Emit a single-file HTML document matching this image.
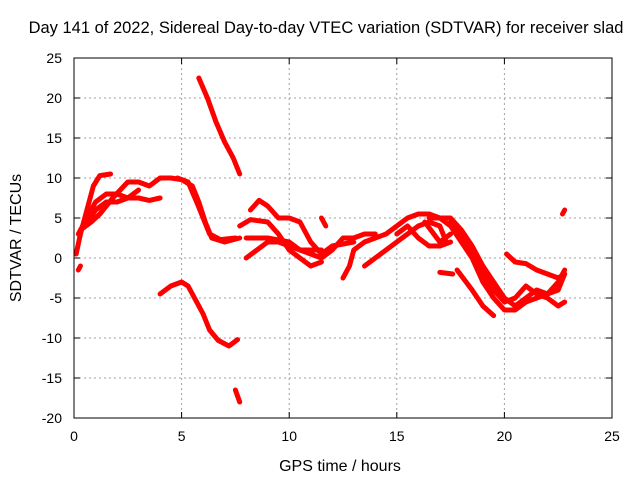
<!DOCTYPE html>
<html><head><meta charset="utf-8"><style>
body{margin:0;background:#fff}
svg{display:block;font-family:"Liberation Sans",sans-serif}
</style></head><body>
<svg id="chart" width="640" height="480">
<text x="326" y="33" font-size="16.5" text-anchor="middle">Day 141 of 2022, Sidereal Day-to-day VTEC variation (SDTVAR) for receiver slad</text>
<g id="grid"></g>
<g id="ticks"></g>
<g id="series"></g>
<rect x="74" y="58" width="538" height="360" fill="none" stroke="#000"/>
<text x="340" y="471" font-size="16" text-anchor="middle">GPS time / hours</text>
<text x="0" y="0" font-size="16" text-anchor="middle" transform="translate(21,238) rotate(-90)">SDTVAR / TECUs</text>
</svg>
<script>
const xTicks=[0,5,10,15,20,25];
const yTicks=[25,20,15,10,5,0,-5,-10,-15,-20];
const tracks=[
[[5.8,22.5],[6.2,20],[6.6,17],[7.0,14.5],[7.4,12.5],[7.7,10.5]],
[[4.0,-4.5],[4.5,-3.5],[5.0,-3],[5.3,-3.5],[5.6,-5],[6.0,-7],[6.3,-9],[6.7,-10.3],[7.2,-11],[7.6,-10.2]],
[[7.5,-16.5],[7.7,-18]],
[[0.2,-1.5],[0.3,-1]],
[[0.1,0.5],[0.3,3],[0.6,6],[0.9,9],[1.2,10.3],[1.7,10.5]],
[[0.2,3],[0.6,5],[1.0,7],[1.5,8],[2,8],[2.5,7.5],[3,7.5],[3.5,7.2],[4,7.5]],
[[0.3,3.5],[0.8,4.5],[1.2,5.5],[1.8,7.5],[2.5,9.5],[3,9.5],[3.5,9],[4,10],[4.5,10],[5,9.8],[5.5,9],[5.8,7],[6.1,4.5],[6.4,2.5],[7,2],[7.7,2.5]],
[[0.5,4],[1,6],[1.5,7],[2,7],[2.5,7.5],[3,8.5]],
[[4.8,10],[5.3,9.5],[5.7,7],[6,5],[6.3,3],[6.8,2.3],[7.5,2.5]],
[[8,0],[8.5,1],[9,2],[9.5,2],[10,1.5],[10.5,1],[11,0.5],[11.5,0],[12,1],[12.5,2.5],[13,2.5],[13.5,3],[14,3]],
[[8.2,6],[8.6,7.2],[9,6.5],[9.5,5],[10,5],[10.5,4.5],[11,2],[11.5,0.5],[12,1.5],[13,2]],
[[7.7,4],[8.2,4.8],[9,4.5],[9.5,3],[10,1],[10.5,0],[11,-1],[11.5,-0.5]],
[[8,2.5],[9,2.5],[10,2],[10.5,1],[11.5,1]],
[[11.5,5],[11.7,4]],
[[12.5,-2.5],[12.8,-1],[13,1],[13.5,2],[14,2.5],[14.5,3],[15,4],[15.5,5],[16,5.5],[16.5,5.5],[17,5],[17.5,4],[18,2],[18.5,0],[19,-3],[19.5,-5],[20,-6.5],[20.5,-6.5],[21,-5.5],[21.5,-5],[22,-4.5],[22.5,-4],[22.8,-2]],
[[13.5,-1],[14,0],[14.5,1],[15,2],[15.5,3],[16,4],[16.5,4.5],[17,4],[17.3,2]],
[[15,3],[15.5,4],[16,2.5],[16.5,1.5],[17,1.5],[17.5,2]],
[[16.3,4.5],[17,2],[17.5,3]],
[[16.5,5],[17,5],[17.5,5],[18,3.5],[18.5,1.5],[19,-1],[19.5,-3],[20,-5],[20.5,-6],[21,-5],[21.5,-4],[22,-4.5],[22.5,-3],[22.8,-1.5]],
[[17,-1.8],[17.6,-2]],
[[17.5,4.5],[18,3],[18.5,0.5],[19,-2],[19.5,-4],[20,-5.5],[20.5,-5],[21,-3.5],[21.5,-4.5],[22,-5],[22.5,-6],[22.8,-5.5]],
[[17.8,-1.5],[18.5,-4],[19,-6],[19.5,-7.2]],
[[20.1,0.5],[20.5,-0.5],[21,-0.7],[21.5,-1.5],[22,-2],[22.5,-2.5],[22.8,-2]],
[[22.7,5.5],[22.8,6]]
];
const X=v=>74+v*538/25, Y=v=>58+(25-v)*8;
const NS='http://www.w3.org/2000/svg';
const grid=document.getElementById('grid'),ticks=document.getElementById('ticks'),ser=document.getElementById('series');
function mk(tag,attrs,parent){const e=document.createElementNS(NS,tag);for(const k in attrs)e.setAttribute(k,attrs[k]);parent.appendChild(e);return e;}
xTicks.forEach(t=>{
  if(t>0&&t<25){const l=mk('line',{x1:X(t),x2:X(t),y1:58,y2:418,stroke:'#a0a0a0','stroke-dasharray':'2,3'},grid);
  
  }
  const tx=mk('text',{x:X(t),y:441,'font-size':14,'text-anchor':'middle'},ticks);tx.textContent=t;
  
  
  mk('line',{x1:X(t),x2:X(t),y1:418,y2:412,stroke:'#000'},ticks);
  mk('line',{x1:X(t),x2:X(t),y1:58,y2:64,stroke:'#000'},ticks);
});
yTicks.forEach(t=>{
  if(t<25&&t>-20){const l=mk('line',{x1:74,x2:612,y1:Y(t),y2:Y(t),stroke:'#a0a0a0','stroke-dasharray':'2,3'},grid);
  
  }
  const tx=mk('text',{x:62,y:Y(t)+5,'font-size':14,'text-anchor':'end'},ticks);tx.textContent=t;
  
  
  mk('line',{x1:74,x2:80,y1:Y(t),y2:Y(t),stroke:'#000'},ticks);
  mk('line',{x1:612,x2:606,y1:Y(t),y2:Y(t),stroke:'#000'},ticks);
});
tracks.forEach(tr=>{
  const p=mk('polyline',{points:tr.map(d=>X(d[0])+','+Y(d[1])).join(' '),fill:'none',stroke:'#ff0000','stroke-width':5,'stroke-linejoin':'round','stroke-linecap':'round'},ser);
  
  
});
</script>
</body></html>
